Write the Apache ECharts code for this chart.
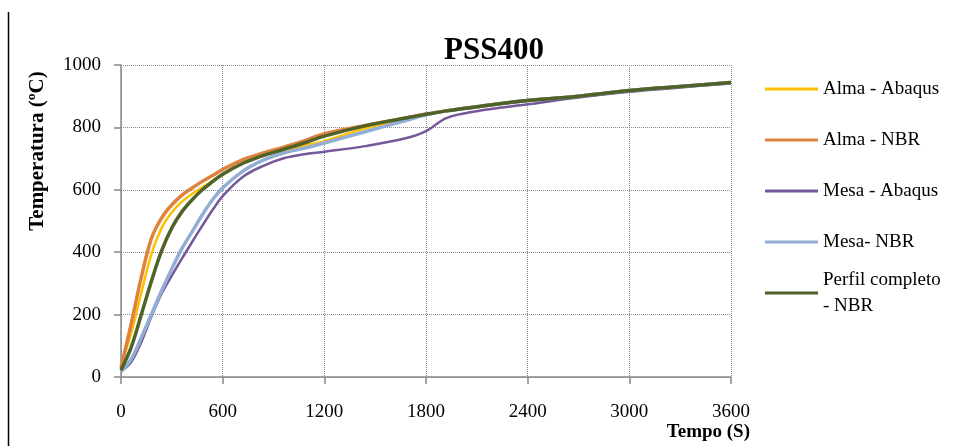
<!DOCTYPE html>
<html>
<head>
<meta charset="utf-8">
<script src="https://cdn.jsdelivr.net/npm/echarts@6/dist/echarts.min.js"></script>
<style>
  html, body { margin: 0; padding: 0; background: #fff; }
  #chart { width: 960px; height: 446px; }
</style>
</head>
<body>
<div id="chart"></div>
<script>
// tempo (s)
var tempo = [0, 60, 120, 180, 240, 300, 360, 420, 480, 540, 600, 720, 840, 960, 1080, 1200, 1440, 1680, 1800, 1920, 2100, 2400, 2700, 3000, 3300, 3600];

// temperaturas (ºC)
var almaAbaqus = [38, 140, 270, 395, 478, 528, 562, 587, 608, 629, 648, 685, 710, 727, 742, 756, 797, 826, 842, 853, 866, 886, 900, 918, 931, 944];
var almaNbr = [30, 170, 320, 445, 510, 552, 583, 606, 627, 646, 665, 697, 718, 737, 757, 780, 806, 830, 843, 853, 866, 886, 900, 918, 931, 944];
var mesaAbaqus = [18, 48, 112, 195, 268, 325, 380, 433, 485, 535, 580, 642, 677, 701, 714, 722, 740, 765, 788, 830, 852, 874, 896, 914, 928, 941];
var mesaNbr = [18, 57, 127, 202, 277, 347, 412, 466, 520, 568, 606, 660, 695, 718, 733, 750, 786, 822, 840, 853, 866, 886, 900, 918, 931, 944];
var perfilNbr = [22, 95, 200, 308, 405, 478, 530, 568, 600, 626, 650, 685, 710, 730, 750, 772, 805, 830, 842, 853, 866, 886, 900, 918, 931, 944];

var xTicks = [0, 600, 1200, 1800, 2400, 3000, 3600];
var yTicks = [0, 200, 400, 600, 800, 1000];

function pares(vals) {
	return tempo.map(function(t, i) { return [t, vals[i]]; });
}

var fonte = 'Liberation Serif';

function serie(nome, vals, cor, largura) {
	return {
		name: nome,
		type: 'line',
		smooth: 0.35,
		symbol: 'none',
		data: pares(vals),
		lineStyle: { color: cor, width: largura },
		itemStyle: { color: cor }
	};
}

var legendaTexto = { fontFamily: fonte, fontSize: 19, color: '#000', lineHeight: 26 };

var chart = echarts.init(document.getElementById('chart'));
var option = {
	animation: false,
	backgroundColor: '#fff',
	title: {
		text: 'PSS400',
		left: 439,
		top: 30,
		textStyle: { fontFamily: fonte, fontSize: 31, fontWeight: 'bold', color: '#000' }
	},
	legend: [{
		orient: 'vertical',
		left: 760,
		top: 71,
		icon: 'rect',
		itemWidth: 53,
		itemHeight: 3,
		itemGap: 25,
		textStyle: legendaTexto,
		data: ['Alma - Abaqus', 'Alma - NBR', 'Mesa - Abaqus', 'Mesa- NBR']
	}, {
		orient: 'vertical',
		left: 760,
		top: 249,
		icon: 'rect',
		itemWidth: 53,
		itemHeight: 3,
		textStyle: legendaTexto,
		data: [{ name: 'Perfil completo\n- NBR', textStyle: { padding: [26, 0, 0, 0] } }]
	}],
	grid: { left: 121, right: 229, top: 65, bottom: 69 },
	xAxis: {
		type: 'value',
		min: xTicks[0],
		max: xTicks[xTicks.length - 1],
		interval: 600,
		name: 'Tempo (S)',
		nameLocation: 'end',
		nameGap: 19,
		nameTextStyle: {
			fontFamily: fonte, fontSize: 19, fontWeight: 'bold', color: '#000',
			align: 'right', verticalAlign: 'top', padding: [46, 0, 0, 0]
		},
		axisLine: { lineStyle: { color: '#888', width: 1.5 } },
		axisTick: { show: true, length: 7, lineStyle: { color: '#888', width: 1.5 } },
		axisLabel: {
			margin: 26, fontFamily: fonte, fontSize: 19, color: '#000',
			formatter: function(v) { return String(v); }
		},
		splitLine: { show: true, lineStyle: { color: '#888', type: 'dotted', width: 1 } }
	},
	yAxis: {
		type: 'value',
		min: yTicks[0],
		max: yTicks[yTicks.length - 1],
		interval: 200,
		name: 'Temperatura (ºC)',
		nameLocation: 'middle',
		nameRotate: 90,
		nameGap: 73,
		nameTextStyle: {
			fontFamily: fonte, fontSize: 21, fontWeight: 'bold', color: '#000',
			padding: [0, 0, 0, 140]
		},
		axisLine: { show: true, lineStyle: { color: '#888', width: 1.5 } },
		axisTick: { show: true, length: 7, lineStyle: { color: '#888', width: 1.5 } },
		axisLabel: {
			margin: 20, fontFamily: fonte, fontSize: 19, color: '#000',
			formatter: function(v) { return String(v); }
		},
		splitLine: { show: true, lineStyle: { color: '#888', type: 'dotted', width: 1 } }
	},
	graphic: [{
		type: 'line',
		shape: { x1: 8.5, y1: 12, x2: 8.5, y2: 446 },
		style: { stroke: '#000', lineWidth: 1.5 }
	}],
	series: [
		serie('Alma - Abaqus', almaAbaqus, '#FFC000', 2.5),
		serie('Alma - NBR', almaNbr, '#DE823E', 3.5),
		serie('Mesa - Abaqus', mesaAbaqus, '#76589A', 2.5),
		serie('Mesa- NBR', mesaNbr, '#92AED6', 3.5),
		serie('Perfil completo\n- NBR', perfilNbr, '#4F6228', 3.5)
	]
};
chart.setOption(option);
</script>
</body>
</html>
